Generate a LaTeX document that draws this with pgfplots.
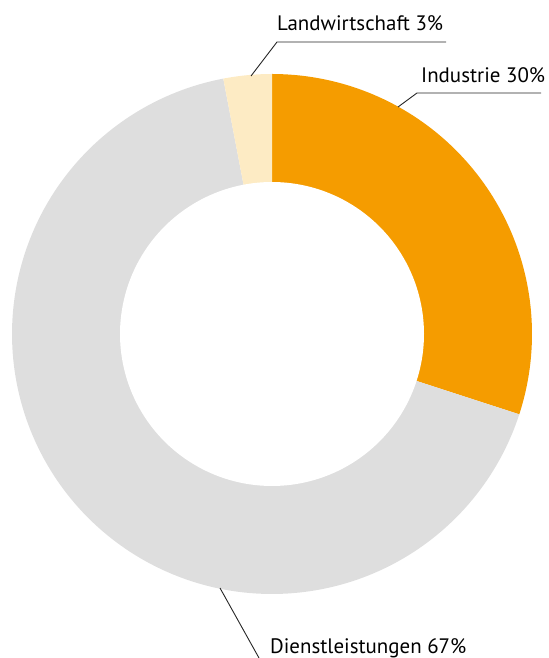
\documentclass[border=0pt]{standalone}
\usepackage{pgfplots}
\pgfplotsset{compat=1.18}
\usepackage{fontspec}
\setmainfont{PT Sans}
\definecolor{cInd}{HTML}{F59C00}
\definecolor{cDie}{HTML}{DEDEDE}
\definecolor{cLan}{HTML}{FDEBC4}
% shares in percent (clockwise from 12 o'clock): Industrie 30, Dienstleistungen 67, Landwirtschaft 3
\begin{document}
\begin{tikzpicture}
\begin{axis}[
  width=549bp, height=658bp, scale only axis,
  xmin=0, xmax=549, ymin=0, ymax=658,
  hide axis, clip=true,
]
\path (axis cs:0,0) rectangle (axis cs:549,658);
% Industrie 30%: 90 -> 90-108
\addplot[fill=cInd, draw=none, domain=90:-18, samples=90, variable=\t]
  ({272+260*cos(\t)},{324+260*sin(\t)}) -- (axis cs:272,324) -- cycle;
% Dienstleistungen 67%: -18 -> -18-241.2
\addplot[fill=cDie, draw=none, domain=-18:-259.2, samples=180, variable=\t]
  ({272+260*cos(\t)},{324+260*sin(\t)}) -- (axis cs:272,324) -- cycle;
% Landwirtschaft 3%: -259.2 -> -270
\addplot[fill=cLan, draw=none, domain=-259.2:-270, samples=20, variable=\t]
  ({272+260*cos(\t)},{324+260*sin(\t)}) -- (axis cs:272,324) -- cycle;
% hole
\addplot[fill=white, draw=none, domain=0:360, samples=180, variable=\t]
  ({272+152*cos(\t)},{324+152*sin(\t)}) -- cycle;
% leader lines
\addplot[black!85, line width=0.9bp] coordinates {(251,582) (277,616) (446,616)};
\addplot[black!85, line width=0.9bp] coordinates {(398,551) (417,565) (541,565)};
\addplot[black!85, line width=0.9bp] coordinates {(220,70) (259,0)};
% labels
\node[anchor=base west, inner sep=0pt, font=\fontsize{21}{23}\selectfont] at (axis cs:277,627) {Landwirtschaft 3\%};
\node[anchor=base west, inner sep=0pt, font=\fontsize{21}{23}\selectfont] at (axis cs:421,575) {Industrie 30\%};
\node[anchor=base west, inner sep=0pt, font=\fontsize{21}{23}\selectfont] at (axis cs:270,5) {Dienstleistungen 67\%};
\end{axis}
\end{tikzpicture}
\end{document}
